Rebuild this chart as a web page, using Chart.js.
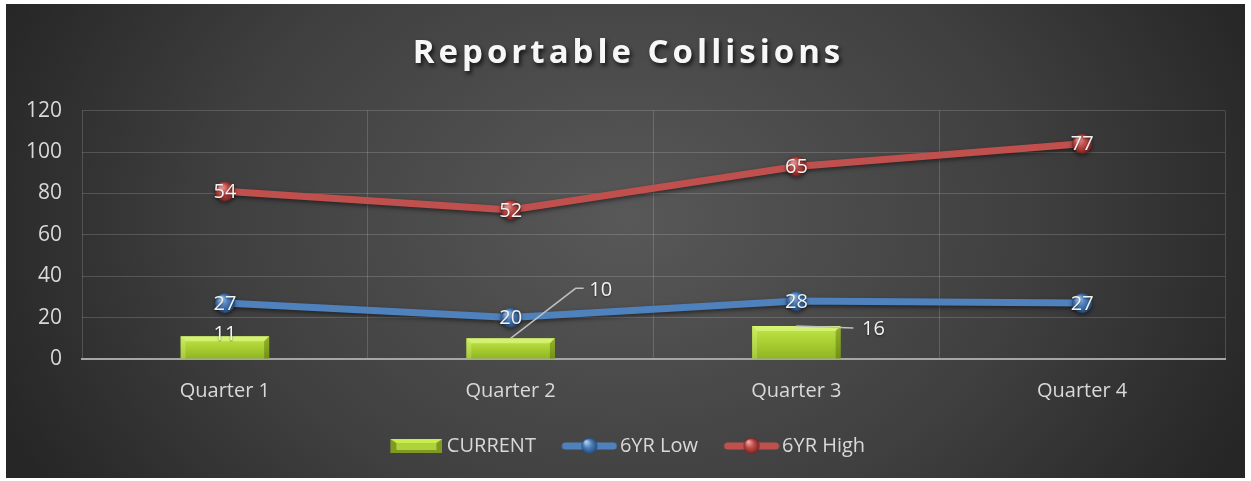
<!DOCTYPE html>
<html>
<head>
<meta charset="utf-8">
<script src="https://cdn.jsdelivr.net/npm/chart.js@4.4.1/dist/chart.umd.min.js"></script>
<style>
  body { margin: 0; background: #fff; }
  .chart-container { position: absolute; left: 6px; top: 4px; width: 1239px; height: 474px; }
</style>
</head>
<body>
<div class="chart-container"><canvas id="myChart"></canvas></div>
<script>
const quarters = ['Quarter 1', 'Quarter 2', 'Quarter 3', 'Quarter 4'];
const currentValues = [11, 10, 16, null];
const lowValues = [27, 20, 28, 27];
const highValues = [54, 52, 65, 77];
const yTicks = [0, 20, 40, 60, 80, 100, 120];

const FONT = '"Open Sans", "DejaVu Sans", sans-serif';
const BLUE = '#4f81bd';
const RED = '#c0504d';

// little shiny ball used as the marker
function makeBall(base, light, dark, r) {
    const c = document.createElement('canvas');
    c.width = c.height = r * 2 + 2;
    const g = c.getContext('2d');
    const grad = g.createRadialGradient(r * 0.7, r * 0.6, 1, r + 1, r + 1, r);
    grad.addColorStop(0, light);
    grad.addColorStop(0.45, base);
    grad.addColorStop(1, dark);
    g.fillStyle = grad;
    g.beginPath();
    g.arc(r + 1, r + 1, r, 0, Math.PI * 2);
    g.fill();
    return c;
}

// legend images get a transparent strip on the left so items sit further apart
const LEG_GAP = 20;

function makeLineLegend(color, ball) {
    const c = document.createElement('canvas');
    c.width = 56 + LEG_GAP; c.height = 20;
    const g = c.getContext('2d');
    g.translate(LEG_GAP, 0);
    g.strokeStyle = color;
    g.lineWidth = 7;
    g.lineCap = 'round';
    g.beginPath();
    g.moveTo(4, 10); g.lineTo(52, 10);
    g.stroke();
    g.drawImage(ball, 28 - ball.width / 2, 10 - ball.height / 2);
    return c;
}

function makeBarLegend() {
    const c = document.createElement('canvas');
    c.width = 52 + LEG_GAP; c.height = 14;
    const g = c.getContext('2d');
    g.translate(LEG_GAP, 0);
    g.fillStyle = '#7f9a22';
    g.fillRect(0, 0, 52, 14);
    g.fillStyle = '#c8ec4c';
    g.beginPath();
    g.moveTo(0, 0); g.lineTo(52, 0); g.lineTo(46, 4); g.lineTo(6, 4); g.closePath();
    g.fill();
    g.fillStyle = '#aed33a';
    g.fillRect(6, 4, 40, 7);
    return c;
}

const blueBall = makeBall(BLUE, '#a9c9f0', '#244a7a', 10);
const redBall = makeBall(RED, '#f2a09e', '#7a2220', 10);
const legendImages = [makeBarLegend(), makeLineLegend(BLUE, makeBall(BLUE, '#a9c9f0', '#244a7a', 8)), makeLineLegend(RED, makeBall(RED, '#f2a09e', '#7a2220', 8))];

const backgroundPlugin = {
    id: 'background',
    afterInit(chart) {
        // spaced-out title with a drop shadow
        const t = chart.titleBlock;
        if (!t) return;
        const draw = t.draw.bind(t);
        t.draw = function () {
            const c = chart.ctx;
            c.save();
            c.translate(8, 0);
            c.letterSpacing = '4px';
            c.shadowColor = 'rgba(0,0,0,0.7)';
            c.shadowBlur = 4;
            c.shadowOffsetX = 2;
            c.shadowOffsetY = 3;
            draw();
            c.restore();
        };
    },
    beforeDraw(chart) {
        const { ctx, width, height } = chart;
        ctx.save();
        ctx.translate(width * 0.5, height * 0.45);
        ctx.scale(1, 0.75);
        const grad = ctx.createRadialGradient(0, 0, 0, 0, 0, width * 0.55);
        grad.addColorStop(0, '#585858');
        grad.addColorStop(0.6, '#3f3f3f');
        grad.addColorStop(1, '#262626');
        ctx.fillStyle = grad;
        ctx.fillRect(-width, -height * 2, width * 2, height * 4);
        ctx.restore();
    }
};

// bevel on top of the bars
const bevelPlugin = {
    id: 'bevel',
    afterDatasetDraw(chart, args) {
        if (args.index !== 0) return;
        const ctx = chart.ctx;
        chart.getDatasetMeta(0).data.forEach((bar, i) => {
            if (currentValues[i] == null) return;
            const left = bar.x - bar.width / 2, right = bar.x + bar.width / 2;
            const top = bar.y, bottom = bar.base;
            const b = 5;
            ctx.save();
            ctx.fillStyle = 'rgba(230,255,150,0.55)';
            ctx.beginPath();
            ctx.moveTo(left, top); ctx.lineTo(right, top); ctx.lineTo(right - b, top + b); ctx.lineTo(left + b, top + b); ctx.closePath();
            ctx.fill();
            ctx.fillStyle = 'rgba(60,80,0,0.35)';
            ctx.beginPath();
            ctx.moveTo(right, top); ctx.lineTo(right, bottom); ctx.lineTo(right - b, bottom); ctx.lineTo(right - b, top + b); ctx.closePath();
            ctx.fill();
            ctx.fillStyle = 'rgba(230,255,150,0.25)';
            ctx.beginPath();
            ctx.moveTo(left, top); ctx.lineTo(left + b, top + b); ctx.lineTo(left + b, bottom); ctx.lineTo(left, bottom); ctx.closePath();
            ctx.fill();
            ctx.restore();
        });
    }
};

const lineShadowPlugin = {
    id: 'lineShadow',
    beforeDatasetDraw(chart, args) {
        if (args.index === 0) return;
        const ctx = chart.ctx;
        ctx.save();
        ctx.shadowColor = 'rgba(0,0,0,0.5)';
        ctx.shadowBlur = 4;
        ctx.shadowOffsetY = 2;
    },
    afterDatasetDraw(chart, args) {
        if (args.index === 0) return;
        chart.ctx.restore();
    }
};

// value labels, with leader lines where Excel moved them
const labelPlugin = {
    id: 'valueLabels',
    afterDatasetsDraw(chart, args, opts) {
        const ctx = chart.ctx;
        ctx.save();
        ctx.font = '20px ' + FONT;
        ctx.textAlign = 'center';
        ctx.textBaseline = 'middle';
        ctx.fillStyle = '#f2f2f2';
        ctx.shadowColor = 'rgba(0,0,0,0.5)';
        ctx.shadowBlur = 2;
        ctx.shadowOffsetY = 1;
        const seriesValues = [currentValues, lowValues, highValues];
        chart.data.datasets.forEach((ds, di) => {
            chart.getDatasetMeta(di).data.forEach((el, i) => {
                const v = seriesValues[di][i];
                if (v == null) return;
                let x = el.x, y = el.y + 1;
                if (di === 0) {
                    const off = opts.barOffsets[i];
                    y = el.y - 2;
                    if (off) {
                        ctx.save();
                        ctx.shadowColor = 'transparent';
                        ctx.strokeStyle = '#bfbfbf';
                        ctx.lineWidth = 1.5;
                        ctx.beginPath();
                        ctx.moveTo(el.x, el.y);
                        ctx.lineTo(el.x + off.elbow[0], el.y + off.elbow[1]);
                        ctx.lineTo(el.x + off.end[0], el.y + off.end[1]);
                        ctx.stroke();
                        ctx.restore();
                        x = el.x + off.text[0];
                        y = el.y + off.text[1];
                    }
                }
                ctx.fillText(String(v), x, y);
            });
        });
        ctx.restore();
    }
};

const ctx = document.getElementById('myChart').getContext('2d');

function barGradient(context) {
    const chart = context.chart;
    if (!chart.chartArea) return '#a4c639';
    const yScale = chart.scales.y;
    const v = context.raw;
    if (v == null) return '#a4c639';
    const top = yScale.getPixelForValue(v), bottom = yScale.getPixelForValue(0);
    const g = chart.ctx.createLinearGradient(0, top, 0, bottom);
    g.addColorStop(0, '#c3e64a');
    g.addColorStop(0.5, '#a9cf32');
    g.addColorStop(1, '#8fb422');
    return g;
}

const myChart = new Chart(ctx, {
    type: 'bar',
    data: {
        labels: quarters,
        datasets: [{
            type: 'bar',
            label: 'CURRENT',
            data: currentValues,
            stack: 'current',
            backgroundColor: barGradient,
            borderWidth: 0,
            barPercentage: 0.31,
            categoryPercentage: 1,
            order: 3
        }, {
            type: 'line',
            label: '6YR Low',
            data: lowValues,
            stack: 'range',
            borderColor: BLUE,
            borderWidth: 7,
            pointStyle: blueBall,
            pointRadius: 10,
            fill: false,
            tension: 0,
            order: 1
        }, {
            type: 'line',
            label: '6YR High',
            data: highValues,
            stack: 'range',
            borderColor: RED,
            borderWidth: 7,
            pointStyle: redBall,
            pointRadius: 10,
            fill: false,
            tension: 0,
            order: 2
        }]
    },
    options: {
        responsive: true,
        maintainAspectRatio: false,
        animation: false,
        layout: { padding: { left: 10, right: 20, top: 8, bottom: 12 } },
        plugins: {
            title: {
                display: true,
                text: 'Reportable Collisions',
                color: '#f7f7f7',
                font: { family: FONT, size: 33, weight: 'bold' },
                padding: { top: 22, bottom: 37 }
            },
            legend: {
                position: 'bottom',
                labels: {
                    color: '#d9d9d9',
                    font: { family: FONT, size: 20 },
                    usePointStyle: true,
                    padding: 13,
                    generateLabels(chart) {
                        return chart.data.datasets.map((ds, i) => ({
                            text: ds.label,
                            fontColor: '#d9d9d9',
                            pointStyle: legendImages[i],
                            datasetIndex: i,
                            hidden: false,
                            lineWidth: 0
                        }));
                    },
                    pointStyleWidth: 52 + LEG_GAP - 11
                }
            },
            tooltip: { enabled: false },
            valueLabels: {
                barOffsets: [
                    null,
                    { elbow: [65, -50], end: [73, -50], text: [90, -48] },
                    { elbow: [57, 2], end: [57, 2], text: [77, 3] },
                    null
                ]
            }
        },
        scales: {
            x: {
                grid: { color: 'rgba(255,255,255,0.16)', offset: true, drawTicks: false },
                border: { color: '#a6a6a6', width: 2 },
                ticks: { color: '#d9d9d9', font: { family: FONT, size: 20 }, padding: 20 }
            },
            y: {
                stacked: true,
                min: 0,
                max: 120,
                afterBuildTicks(scale) {
                    scale.ticks = yTicks.map(v => ({ value: v }));
                },
                afterFit(scale) {
                    scale.width = 66;
                },
                grid: { color: 'rgba(255,255,255,0.16)', drawTicks: false },
                border: { display: false },
                ticks: { color: '#d9d9d9', font: { family: FONT, size: 21 }, padding: 20 }
            }
        }
    },
    plugins: [backgroundPlugin, lineShadowPlugin, bevelPlugin, labelPlugin]
});
</script>
</body>
</html>
